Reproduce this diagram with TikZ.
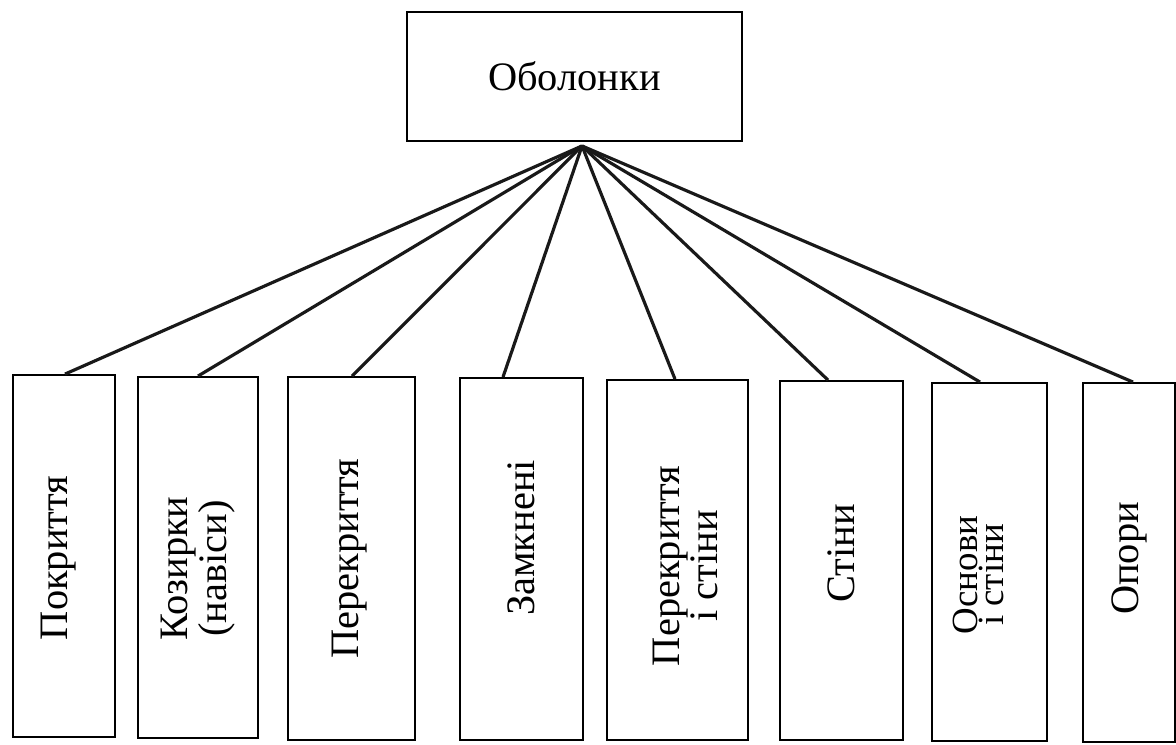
\documentclass[tikz,border=0pt]{standalone}
\usepackage{fontspec}
\setmainfont{Liberation Serif}
\usepackage{tikz}
\usetikzlibrary{positioning}
\tikzset{
  rootbox/.style={draw=black, line width=1.1pt, fill=white, align=center, font=\fontsize{23}{26}\selectfont, inner sep=0pt},
  kindbox/.style={draw=black, line width=1.1pt, fill=white, inner sep=0pt},
  kindtext/.style={rotate=90, align=center, font=\fontsize{23}{18}\selectfont, inner sep=0pt},
  link/.style={line width=1.8pt, draw=black!90}
}

\begin{document}
\begin{tikzpicture}[x=0.02cm, y=-0.02cm]
  \useasboundingbox (0,0) rectangle (1176,744);
  \clip (0,0) rectangle (1176,744);
  % top box
  \node[rootbox, minimum width=6.7cm, minimum height=2.58cm] (shell) at (574.5,76.5) {Оболонки};
  \coordinate (hub) at ([xshift=0.15cm, yshift=-0.08cm]shell.south);
  % kinds
  \node[kindbox, minimum width=2.04cm, minimum height=7.24cm] (cover) at (64,556) {};
  \node[kindbox, minimum width=2.4cm, minimum height=7.22cm] (canopy) at (198,557.5) {};
  \node[kindbox, minimum width=2.54cm, minimum height=7.26cm] (floor) at (351.5,558.5) {};
  \node[kindbox, minimum width=2.46cm, minimum height=7.24cm] (closed) at (521.5,559) {};
  \node[kindbox, minimum width=2.82cm, minimum height=7.2cm] (floorwall) at (677.5,560) {};
  \node[kindbox, minimum width=2.46cm, minimum height=7.18cm] (wall) at (841.5,560.5) {};
  \node[kindbox, minimum width=2.3cm, minimum height=7.16cm] (basewall) at (989.5,562) {};
  \node[kindbox, minimum width=1.84cm, minimum height=7.18cm] (support) at (1129,562.5) {};
  % texts, set a little off the box centres as in the scan
  \node[kindtext] (cover-t) at ([xshift=-0.1cm, yshift=-0.04cm]cover.center) {Покриття};
  \node[kindtext] (canopy-t) at ([yshift=-0.22cm]canopy.center) {Козирки\\(навіси)};
  \node[kindtext] (floor-t) at ([xshift=-0.04cm]floor.center) {Перекриття};
  \node[kindtext] (closed-t) at ([yshift=0.42cm]closed.center) {Замкнені};
  \node[kindtext] (floorwall-t) at ([xshift=0.16cm, yshift=-0.12cm]floorwall.center) {Перекриття\\і стіни};
  \node[kindtext] (wall-t) at ([yshift=0.14cm]wall.center) {Стіни};
  \node[kindtext, font=\fontsize{21}{15}\selectfont] (basewall-t) at ([xshift=-0.22cm, yshift=-0.26cm]basewall.center) {Основи\\і стіни};
  \node[kindtext] (support-t) at ([yshift=0.08cm]support.center) {Опори};
  % connectors
  \draw[link] (hub) -- ([xshift=0.02cm]cover.north);
  \draw[link] (hub) -- (canopy.north);
  \draw[link] (hub) -- ([xshift=0.01cm]floor.north);
  \draw[link] (hub) -- ([xshift=-0.37cm]closed.north);
  \draw[link] (hub) -- ([xshift=-0.05cm]floorwall.north);
  \draw[link] (hub) -- ([xshift=-0.27cm]wall.north);
  \draw[link] (hub) -- ([xshift=-0.19cm]basewall.north);
  \draw[link] (hub) -- ([xshift=0.08cm]support.north);
\end{tikzpicture}
\end{document}
